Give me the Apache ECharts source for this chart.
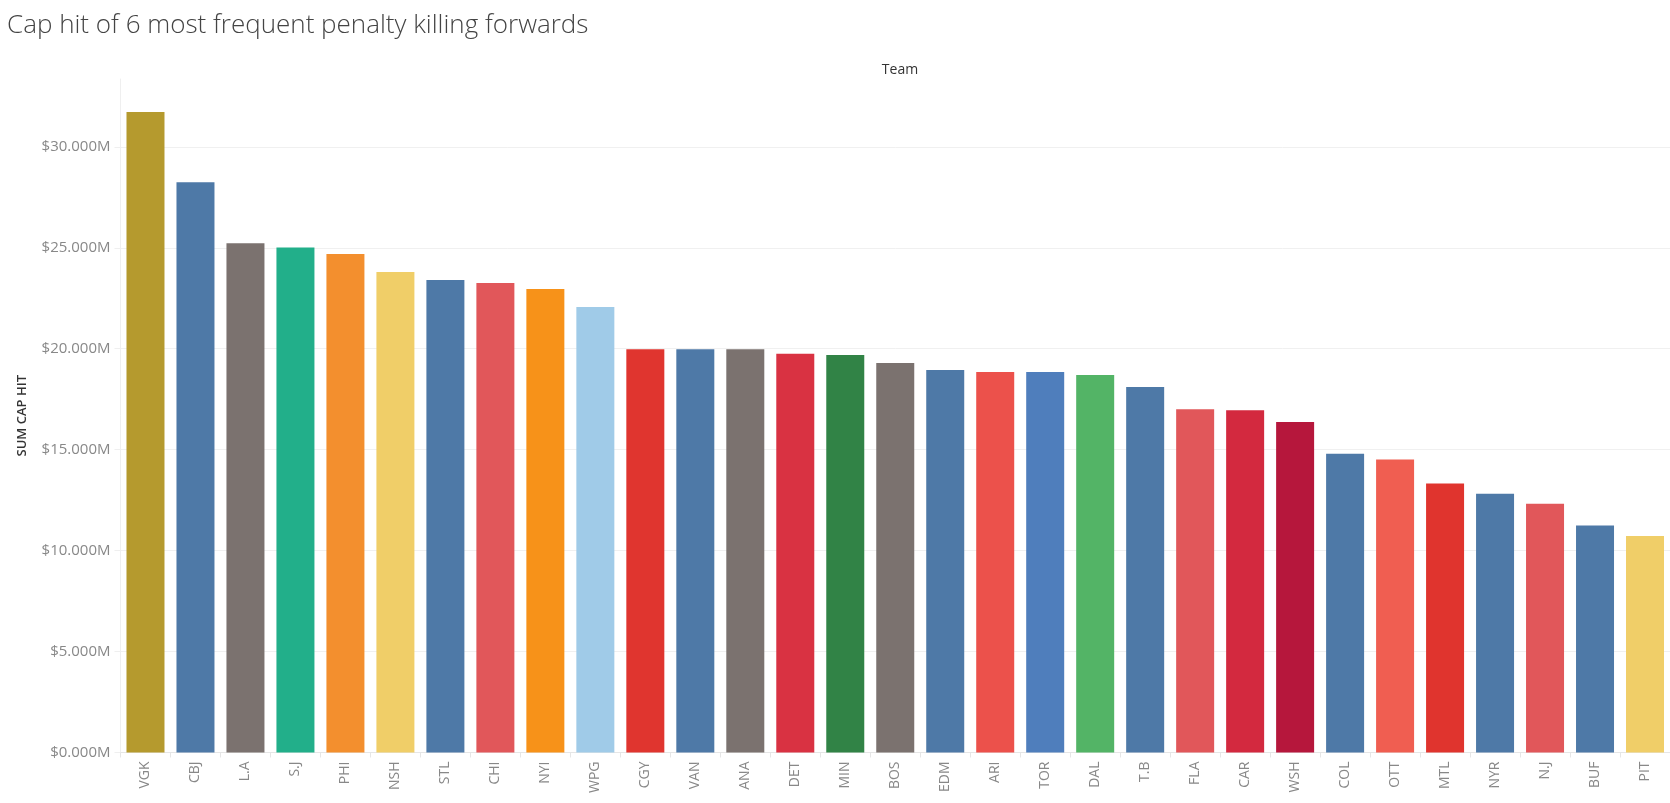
<!DOCTYPE html>
<html>
<head>
<meta charset="utf-8">
<script src="https://cdn.jsdelivr.net/npm/echarts@6/dist/echarts.min.js"></script>
<style>
html,body{margin:0;padding:0;background:#fff;}
#chart{width:1670px;height:803px;}
</style>
</head>
<body>
<div id="chart"></div>
<script>
// Data (values in millions of dollars)
const teams = ['VGK','CBJ','L.A','S.J','PHI','NSH','STL','CHI','NYI','WPG','CGY','VAN','ANA','DET','MIN','BOS','EDM','ARI','TOR','DAL','T.B','FLA','CAR','WSH','COL','OTT','MTL','NYR','N.J','BUF','PIT'];
const capHit = [31.72,28.25,25.23,25.02,24.69,23.80,23.40,23.25,22.96,22.07,19.98,19.98,19.98,19.75,19.69,19.29,18.95,18.85,18.85,18.70,18.10,17.00,16.95,16.37,14.80,14.51,13.32,12.82,12.32,11.24,10.72];
const yTicks = [0,5,10,15,20,25,30];
const teamColors = ['#B59A2E','#4E79A7','#7B726F','#22AF8A','#F38F2E','#F0CE68','#4E79A7','#E1575A','#F79219','#A0CBE8','#E0352F','#4E79A7','#7B726F','#D93242','#318346','#7B726F','#4E79A7','#EC514B','#4F7EBC','#53B466','#4E79A7','#E1575A','#D3293F','#B6173C','#4E79A7','#F05E51','#E0342E','#4E79A7','#E1575A','#4E79A7','#F0CE68'];

const chart = echarts.init(document.getElementById('chart'), null, {renderer:'canvas'});
const font = '"Open Sans", "Noto Sans", sans-serif';
chart.setOption({
  animation:false,
  backgroundColor:'#fff',
  title:[
    {text:'Cap hit of 6 most frequent penalty killing forwards', left:2, top:8,
     textStyle:{fontFamily:font, fontWeight:300, fontSize:26, color:'#444'}},
    {text:'Team', left:895, top:58, textAlign:'center',
     textStyle:{fontFamily:font, fontWeight:400, fontSize:14, color:'#333'}}
  ],
  grid:{left:120.5, right:0, top:79, bottom:50.5, containLabel:false},
  xAxis:{
    type:'category', data:teams,
    axisLine:{show:true, lineStyle:{color:'#e6e6e6', width:1}},
    axisTick:{show:true, length:5, lineStyle:{color:'#e6e6e6'}},
    axisLabel:{rotate:90, margin:9, fontFamily:font, fontSize:14, color:'#888'}
  },
  yAxis:{
    type:'value', min:0, max:33.36, interval:5,
    name:'SUM CAP HIT', nameLocation:'middle', nameGap:92, nameRotate:90,
    nameTextStyle:{fontFamily:font, fontWeight:600, fontSize:13, color:'#333'},
    axisLine:{show:true, lineStyle:{color:'#efefef'}},
    axisTick:{show:true, length:6, lineStyle:{color:'#efefef'}},
    axisLabel:{margin:10, fontFamily:font, fontSize:15, color:'#888', showMaxLabel:false,
      formatter:v => yTicks.includes(Math.round(v*1000)/1000) ? '$' + v.toFixed(3) + 'M' : ''},
    splitLine:{show:true, showMaxLine:false, lineStyle:{color:'#f0f0f0', width:1}}
  },
  series:[{
    type:'bar', data:capHit, barWidth:38,
    itemStyle:{color:p => teamColors[p.dataIndex]}
  }]
});
</script>
</body>
</html>
